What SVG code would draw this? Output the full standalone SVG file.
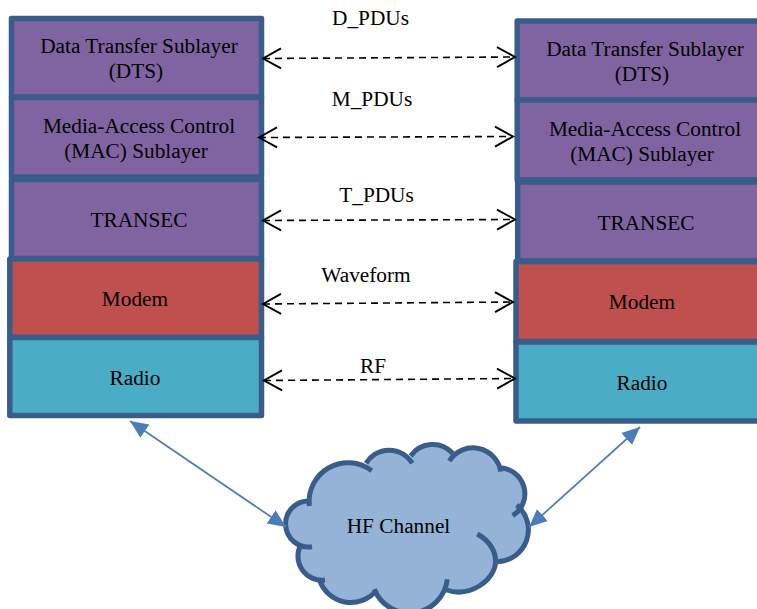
<svg xmlns="http://www.w3.org/2000/svg" width="757" height="609" viewBox="0 0 757 609">
<style>
text{font-family:"Liberation Serif","Times New Roman",serif;font-size:21.3px;fill:#000;text-anchor:middle}
.box{stroke:#385d8a;stroke-width:5.5;stroke-linejoin:round}
.p{fill:#8064a2}.r{fill:#c0504d}.t{fill:#4bacc6}
.d{fill:none;stroke:#000;stroke-width:1.6;stroke-dasharray:7 5;marker-start:url(#open);marker-end:url(#open)}
.b{fill:none;stroke:#4a7ebb;stroke-width:1.7;marker-start:url(#solid);marker-end:url(#solid)}
.cl{fill:none;stroke:#385d8a;stroke-width:5}
</style>
<defs>
<marker id="open" markerUnits="userSpaceOnUse" markerWidth="24" markerHeight="26" refX="20" refY="13" orient="auto-start-reverse" viewBox="0 0 24 26">
<path d="M2,3 L20,13 L2,23" fill="none" stroke="#000" stroke-width="1.9"/>
</marker>
<marker id="solid" markerUnits="userSpaceOnUse" markerWidth="20" markerHeight="18" refX="18" refY="9" orient="auto-start-reverse" viewBox="0 0 20 18">
<path d="M0,1 L18,9 L0,17 Z" fill="#4a7ebb"/>
</marker>
</defs>
<g id="left-dts"><rect class="box p" x="11.5" y="18.5" width="250" height="78.5"/><text x="139" y="52.5">Data Transfer Sublayer</text><text x="136" y="78">(DTS)</text></g>
<g id="left-mac"><rect class="box p" x="11.5" y="97.5" width="250" height="79.5"/><text x="139" y="133">Media-Access Control</text><text x="136" y="158">(MAC) Sublayer</text></g>
<g id="left-transec"><rect class="box p" x="11.5" y="179.5" width="250" height="79"/><text x="139" y="227">TRANSEC</text></g>
<g id="left-modem"><rect class="box r" x="9.8" y="259" width="251.7" height="78.5"/><text x="135" y="306">Modem</text></g>
<g id="left-radio"><rect class="box t" x="9.8" y="337.5" width="251.7" height="78"/><text x="135" y="385">Radio</text></g>
<g id="right-dts"><rect class="box p" x="517.2" y="21" width="250" height="79"/><text x="645" y="55.5">Data Transfer Sublayer</text><text x="642" y="81">(DTS)</text></g>
<g id="right-mac"><rect class="box p" x="517.2" y="100" width="250" height="80"/><text x="645" y="135.5">Media-Access Control</text><text x="642" y="161">(MAC) Sublayer</text></g>
<g id="right-transec"><rect class="box p" x="517.7" y="182" width="250" height="79"/><text x="646" y="230">TRANSEC</text></g>
<g id="right-modem"><rect class="box r" x="516" y="261.5" width="250" height="80"/><text x="642" y="309">Modem</text></g>
<g id="right-radio"><rect class="box t" x="516" y="342" width="250" height="79"/><text x="642" y="390">Radio</text></g>
<g id="hf-channel">
<path fill="#95b3d7" d="M312,546.7 A23,23 0 1 1 310,501 L309.3,506 A39,39 0 0 1 371.7,470.7 L366,463.3 A27,27 0 0 1 412.3,463.3 L410.7,456 A27,27 0 0 1 452.7,453.3 L449.3,461 A28,28 0 0 1 500.7,471.7 L498.3,467.7 A26,26 0 0 1 512.7,515.7 L516.7,505 A32,32 0 0 1 497.3,561.7 L495.5,562 C495,580 470,598 446.7,590 L447.3,579.3 A38,38 0 0 1 374.3,589.3 L376.7,590 A33,33 0 0 1 319.3,579.3 L325,580 A24,24 0 0 1 300.7,545 Z"/>
<path class="cl" d="M312,546.7 A23,23 0 1 1 310,501"/>
<path class="cl" d="M309.3,506 A39,39 0 0 1 371.7,470.7"/>
<path class="cl" d="M366,463.3 A27,27 0 0 1 412.3,463.3"/>
<path class="cl" d="M410.7,456 A27,27 0 0 1 452.7,453.3"/>
<path class="cl" d="M449.3,461 A28,28 0 0 1 500.7,471.7"/>
<path class="cl" d="M498.3,467.7 A26,26 0 0 1 512.7,515.7"/>
<path class="cl" d="M516.7,505 A32,32 0 0 1 497.3,561.7"/>
<path class="cl" d="M477.3,534 C490,541 496,552 495.5,562 C495,580 470,598 446.7,590"/>
<path class="cl" d="M447.3,579.3 A38,38 0 0 1 374.3,589.3"/>
<path class="cl" d="M376.7,590 A33,33 0 0 1 319.3,579.3"/>
<path class="cl" d="M325,580 A24,24 0 0 1 300.7,545"/>
<text x="398.5" y="533">HF Channel</text>
</g>
<g id="connectors">
<line class="d" x1="263" y1="58.5" x2="515" y2="57"/>
<line class="d" x1="259" y1="137.5" x2="513" y2="136.5"/>
<line class="d" x1="263" y1="220.5" x2="515" y2="219.5"/>
<line class="d" x1="263" y1="304" x2="513" y2="302"/>
<line class="d" x1="264" y1="380.5" x2="515" y2="378.5"/>
<line class="b" x1="130" y1="421" x2="286" y2="527"/>
<line class="b" x1="640" y1="427" x2="529" y2="527"/>
</g>
<g id="labels">
<text x="370.5" y="25">D_PDUs</text>
<text x="372" y="106">M_PDUs</text>
<text x="376.5" y="202">T_PDUs</text>
<text x="366" y="282">Waveform</text>
<text x="373" y="372.5">RF</text>
</g>
</svg>
